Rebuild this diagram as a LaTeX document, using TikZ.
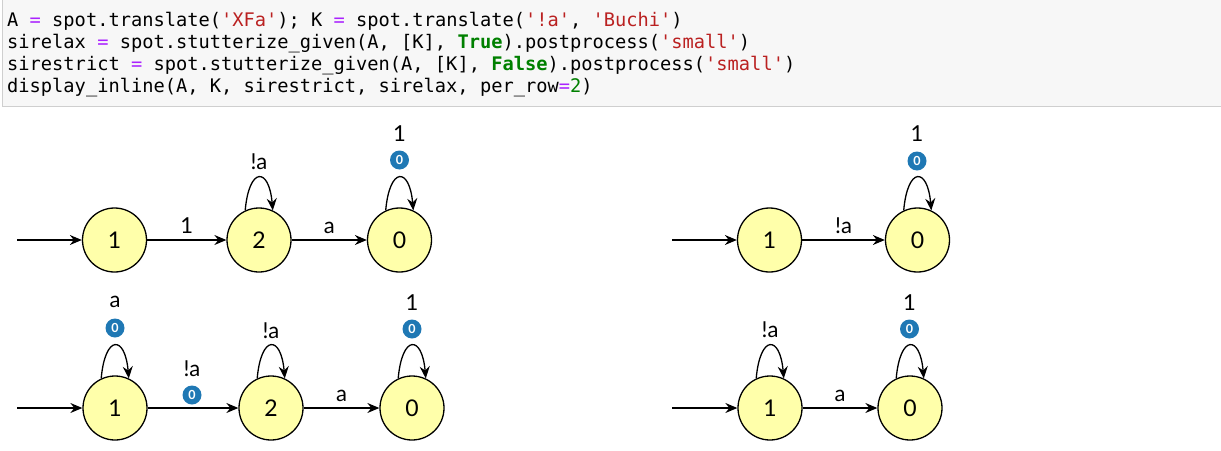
\documentclass[tikz,border=0pt]{standalone}
\usepackage{fontspec}
\setmainfont{Lato}
\newfontfamily\codefont{DejaVu Sans Mono}
\usetikzlibrary{arrows.meta}
\definecolor{codebg}{HTML}{F7F7F7}
\definecolor{codeborder}{HTML}{CFCFCF}
\definecolor{oppurple}{HTML}{AA22FF}
\definecolor{strred}{HTML}{BA2121}
\definecolor{kwgreen}{HTML}{008000}
\definecolor{statefill}{HTML}{FFFFAA}
\definecolor{badgeblue}{HTML}{1F78B4}
\newcommand{\cop}[1]{\textcolor{oppurple}{#1}}
\newcommand{\cstr}[1]{\textcolor{strred}{#1}}
\newcommand{\ckw}[1]{\textcolor{kwgreen}{\bfseries #1}}
\newcommand{\cnum}[1]{\textcolor{kwgreen}{#1}}
\newcommand{\q}{\textquotesingle}
\tikzset{
  codeline/.style={anchor=base west, inner sep=0pt, font=\codefont\fontsize{18.7}{22}\selectfont},
  autstate/.style={circle, draw=black, line width=1.3pt, fill=statefill, minimum size=64pt, inner sep=0pt, font=\fontsize{23}{26}\selectfont},
  lbl/.style={inner sep=0pt, font=\fontsize{22}{26}\selectfont},
  elbl/.style={lbl, anchor=base, yshift=7pt},
  badge/.style={circle, fill=badgeblue, minimum size=19pt, inner sep=0pt, text=white, font=\fontsize{12.5}{13}\selectfont\bfseries},
  edge/.style={line width=1.3pt, -{Stealth[length=12pt,width=10pt,inset=4pt]}},
}
\begin{document}
\begin{tikzpicture}[x=1pt,y=-1pt]
\useasboundingbox (0,0) rectangle (1221,450);
\clip (0,0) rectangle (1221,450);
% code cell
\fill[codebg] (2,-2) rectangle (1223,106);
\draw[codeborder, line width=1pt] (2,-2) -- (2,106) -- (1223,106);
\node[codeline] (c1) at (7,26) {A \cop{=} spot.translate(\cstr{\q XFa\q}); K \cop{=} spot.translate(\cstr{\q!a\q}, \cstr{\q Buchi\q})};
\node[codeline] (c2) at (7,48) {sirelax \cop{=} spot.stutterize\_given(A, [K], \ckw{True}).postprocess(\cstr{\q small\q})};
\node[codeline] (c3) at (7,70) {sirestrict \cop{=} spot.stutterize\_given(A, [K], \ckw{False}).postprocess(\cstr{\q small\q})};
\node[codeline] (c4) at (7,92) {display\_inline(A, K, sirestrict, sirelax, per\_row\cop{=}\cnum{2})};

% ---------- A (top left)
\coordinate (ai) at (17,240);
\node[autstate] (a1) at (114.5,240) {1};
\node[autstate] (a2) at (259,240) {2};
\node[autstate] (a0) at (399.5,240) {0};
\draw[edge] (ai) -- (a1);
\draw[edge] (a1) -- node[elbl] {1} (a2);
\draw[edge] (a2) -- node[elbl] {a} (a0);
\draw[edge] (a2.115) .. controls +(95:-44) and +(85:-44) .. (a2.65);
\node[lbl] (a2l) at (259,162) {!a};
\draw[edge] (a0.115) .. controls +(95:-44) and +(85:-44) .. (a0.65);
\node[badge] (a0b) at (399.5,160) {0};
\node[lbl] (a0l) at (399.5,134) {1};

% ---------- K (top right)
\coordinate (ki) at (672,240);
\node[autstate] (k1) at (769.5,240) {1};
\node[autstate] (k0) at (917.5,240) {0};
\draw[edge] (ki) -- (k1);
\draw[edge] (k1) -- node[elbl] {!a} (k0);
\draw[edge] (k0.115) .. controls +(95:-44) and +(85:-44) .. (k0.65);
\node[badge] (k0b) at (917,161) {0};
\node[lbl] (k0l) at (917,134) {1};

% ---------- sirestrict (bottom left)
\coordinate (si) at (17,408);
\node[autstate] (s1) at (115,408) {1};
\node[autstate] (s2) at (271,408) {2};
\node[autstate] (s0) at (412,408) {0};
\draw[edge] (si) -- (s1);
\draw[edge] (s1) -- (s2);
\node[badge] (s12b) at (192,395) {0};
\node[lbl] (s12l) at (192,369) {!a};
\draw[edge] (s2) -- node[elbl, yshift=-0.5pt] {a} (s0);
\draw[edge] (s1.115) .. controls +(95:-44) and +(85:-44) .. (s1.65);
\node[badge] (s1b) at (115,328) {0};
\node[lbl] (s1l) at (115,302) {a};
\draw[edge] (s2.115) .. controls +(95:-44) and +(85:-44) .. (s2.65);
\node[lbl] (s2l) at (271,331) {!a};
\draw[edge] (s0.115) .. controls +(95:-44) and +(85:-44) .. (s0.65);
\node[badge] (s0b) at (412,329) {0};
\node[lbl] (s0l) at (412,303) {1};

% ---------- sirelax (bottom right)
\coordinate (ri) at (672,408);
\node[autstate] (r1) at (770,408) {1};
\node[autstate] (r0) at (910,408) {0};
\draw[edge] (ri) -- (r1);
\draw[edge] (r1) -- node[elbl, yshift=-0.5pt] {a} (r0);
\draw[edge] (r1.115) .. controls +(95:-44) and +(85:-44) .. (r1.65);
\node[lbl] (r1l) at (770,330) {!a};
\draw[edge] (r0.115) .. controls +(95:-44) and +(85:-44) .. (r0.65);
\node[badge] (r0b) at (909.5,329) {0};
\node[lbl] (r0l) at (909.5,303) {1};
\end{tikzpicture}
\end{document}
